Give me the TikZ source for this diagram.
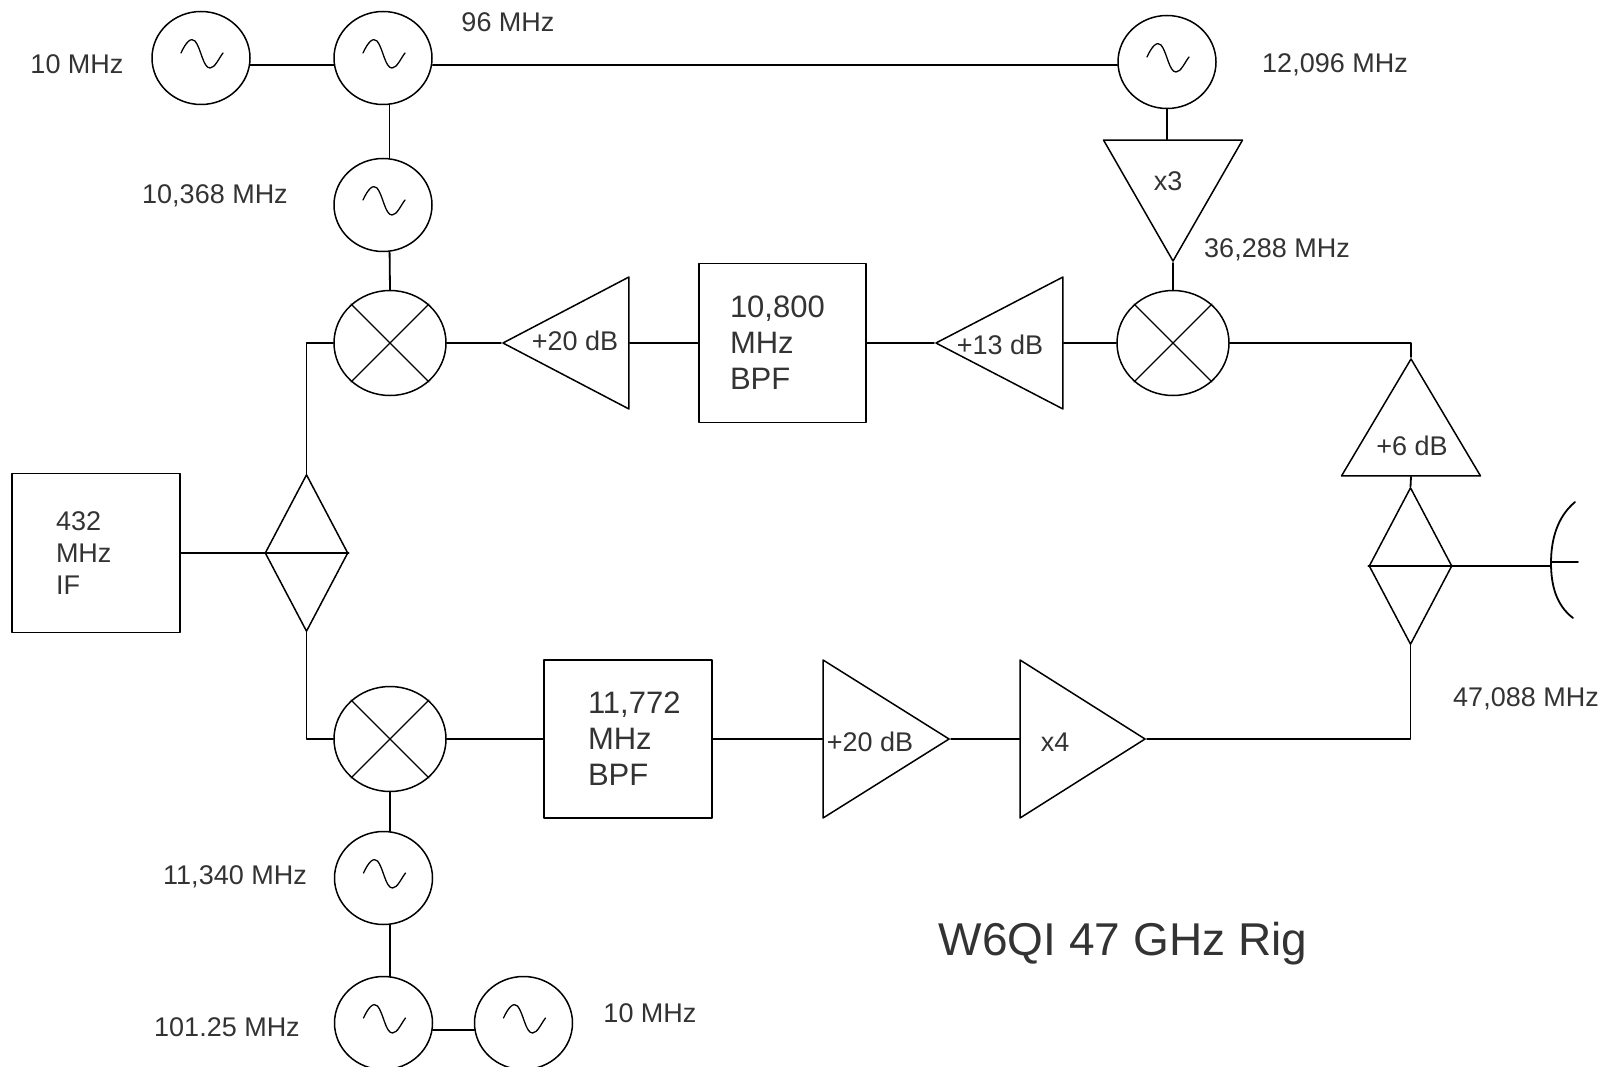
\documentclass[tikz,border=0pt]{standalone}
\usepackage{fontspec}
\setmainfont{Liberation Sans}
\usetikzlibrary{shapes.geometric}
\tikzset{
  wire/.style={line width=1.8pt, line cap=round, line join=round},
  osc-node/.style={ellipse, draw, line width=1.5pt, minimum width=98pt, minimum height=93pt, inner sep=0pt},
  mix-node/.style={ellipse, draw, line width=1.5pt, minimum width=112pt, minimum height=105pt, inner sep=0pt},
  split-node/.style={diamond, draw, line width=1.5pt, minimum width=83pt, minimum height=157pt, inner sep=0pt},
  amp-node/.style={isosceles triangle, isosceles triangle stretches, draw, line width=1.5pt, inner sep=0pt},
  box-node/.style={rectangle, draw, line width=1.8pt, inner sep=0pt, align=left, text=black!80, font=\fontsize{31}{36}\selectfont},
  lbl-text/.style={inner sep=0pt, text=black!80, font=\fontsize{27}{32}\selectfont}
}

\begin{document}
\begin{tikzpicture}[x=1pt, y=-1pt, wire]
  \useasboundingbox (0,0) rectangle (1616,1067);

  % --- Oscillators ---
  \node[osc-node] (osc10top) at (201,58) {};
  \node[osc-node] (osc96) at (383,58) {};
  \node[osc-node] (osc12096) at (1167,62) {};
  \node[osc-node] (osc10368) at (383,205) {};
  \node[osc-node] (osc11340) at (383.5,878) {};
  \node[osc-node] (osc10125) at (383.5,1023) {};
  \node[osc-node] (osc10low) at (523.5,1023) {};
  \foreach \n in {osc10top,osc96,osc12096,osc10368,osc11340,osc10125,osc10low}
    \draw[shift={(\n.center)}, line width=1.3pt] (-20,-5) .. controls (-15,-16) and (-10,-21) .. (-6,-17)
      .. controls (0,-10) and (2,10) .. (9,10) .. controls (14,10) and (18,0) .. (22,-5);

  % --- Mixers ---
  \node[mix-node] (mixtl) at (390,343) {};
  \node[mix-node] (mixtr) at (1173,343) {};
  \node[mix-node] (mixlow) at (390,739) {};
  \foreach \n in {mixtl,mixtr,mixlow} {
    \draw[line width=1.3pt] (\n.45) -- (\n.225);
    \draw[line width=1.3pt] (\n.135) -- (\n.315);
  }

  % --- Splitters ---
  \node[split-node] (splitif) at (306.5,553) {};
  \node[split-node] (splitant) at (1410.5,566) {};
  \draw (splitif.west) -- (splitif.east);
  \draw (splitant.west) -- (splitant.east);

  % --- Filters and IF ---
  \node[box-node, minimum width=167pt, minimum height=159pt, text width=105pt] (bpf10800) at (782.5,343) {10,800\\MHz\\BPF};
  \node[box-node, minimum width=168pt, minimum height=158pt, text width=80pt] (bpf11772) at (628,739) {11,772\\MHz\\BPF};
  \node[box-node, minimum width=168pt, minimum height=159pt, text width=80pt, font=\fontsize{27}{32}\selectfont] (ifbox) at (96,553) {432\\MHz\\IF};

  % --- Amplifiers ---
  \node[amp-node, shape border rotate=180, minimum width=132pt, minimum height=126pt, anchor=apex] (amp20top) at (501,343) {};
  \node[amp-node, shape border rotate=180, minimum width=132pt, minimum height=127pt, anchor=apex] (amp13) at (934,343) {};
  \node[amp-node, shape border rotate=270, minimum width=139pt, minimum height=121pt, anchor=apex] (mult3) at (1173,263) {};
  \node[amp-node, shape border rotate=90, minimum width=139pt, minimum height=117pt, anchor=apex] (amp6) at (1411,357) {};
  \node[amp-node, minimum width=158pt, minimum height=126pt, anchor=apex] (amp20low) at (951,739) {};
  \node[amp-node, minimum width=158pt, minimum height=125pt, anchor=apex] (mult4) at (1147,739) {};

  % --- Amplifier text ---
  \node[lbl-text] (t20top) at (575,341) {+20 dB};
  \node[lbl-text] (t13) at (1000,345) {+13 dB};
  \node[lbl-text] (tx3) at (1168,181) {x3};
  \node[lbl-text] (t6) at (1412,446) {+6 dB};
  \node[lbl-text] (t20low) at (870,742) {+20 dB};
  \node[lbl-text] (tx4) at (1055,742) {x4};

  % --- Connectors ---
  \draw (osc10top.-8) -- (osc96.188);
  \draw (osc96.east) ++(0,7) coordinate (c96) -- (c96 -| osc12096.west);
  \draw (osc96.-82) -- (osc10368.82);
  \draw (osc10368.-82) -- (mixtl.north);
  \draw (osc12096.south) -- (osc12096.south |- mult3.lower side);
  \draw (mult3.apex) -- (mixtr.north);
  \draw (mixtl.east) -- (amp20top.apex);
  \draw (amp20top.lower side) -- (bpf10800.west);
  \draw (bpf10800.east) -- (amp13.apex);
  \draw (amp13.lower side) -- (mixtr.west);
  \draw (mixtr.east) -| (amp6.apex);
  \draw (amp6.lower side) -- (splitant.north);
  \draw (ifbox.east) -- (splitif.west);
  \draw (splitif.north) |- (mixtl.west);
  \draw (splitif.south) |- (mixlow.west);
  \draw (mixlow.east) -- (bpf11772.west);
  \draw (bpf11772.east) -- (amp20low.lower side);
  \draw (amp20low.apex) -- (mult4.lower side);
  \draw (mult4.apex) -| (splitant.south);
  \draw (mixlow.south) -- (osc11340.82);
  \draw (osc11340.-82) -- (osc10125.82);
  \draw (osc10125.-8) -- (osc10low.188);

  % --- Dish ---
  \coordinate (dish) at (1551,566);
  \draw (splitant.east) -- (dish);
  \draw (1575,502) .. controls (1557,517) and (1551,540) .. (1551,563) .. controls (1551,585) and (1556,605) .. (1573,618);
  \draw (1551,562) -- (1578,562);

  % --- Frequencies ---
  \node[lbl-text] (f10top) at (77,64) {10 MHz};
  \node[lbl-text] (f96) at (508,22) {96 MHz};
  \node[lbl-text] (f12096) at (1335,65) {12,096 MHz};
  \node[lbl-text] (f10368) at (215,196) {10,368 MHz};
  \node[lbl-text] (f36288) at (1277,250) {36,288 MHz};
  \node[lbl-text] (f47088) at (1526,699) {47,088 MHz};
  \node[lbl-text] (f11340) at (235,877) {11,340 MHz};
  \node[lbl-text] (f10125) at (227,1027) {101.25 MHz};
  \node[lbl-text] (f10low) at (650,1013) {10 MHz};
  \node[lbl-text, font=\fontsize{46}{50}\selectfont] (title) at (1123,944) {W6QI 47 GHz Rig};
\end{tikzpicture}
\end{document}
